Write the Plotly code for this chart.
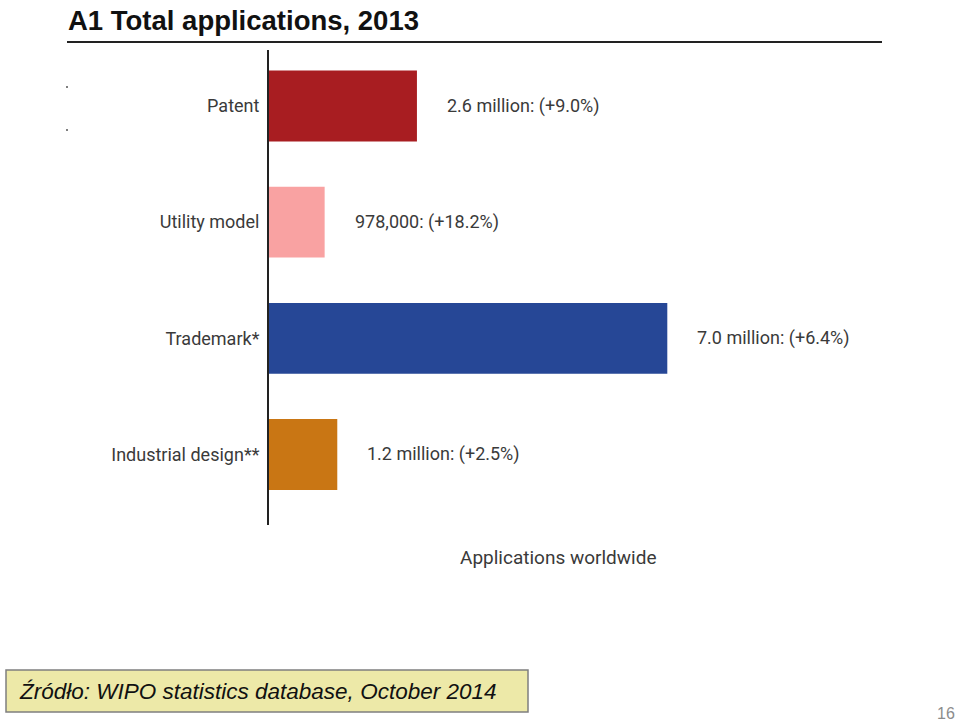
import plotly.graph_objects as go

categories = ["Patent", "Utility model", "Trademark*", "Industrial design**"]
values_million = [2.6, 0.978, 7.0, 1.2]
value_labels = ["2.6 million: (+9.0%)", "978,000: (+18.2%)", "7.0 million: (+6.4%)", "1.2 million: (+2.5%)"]
bar_colors = ["#A81D21", "#F9A2A2", "#264796", "#C97614"]

W, H = 960, 723
x0_px, x1_px = 269, 882
px_per_unit = 56.9
xmax = (x1_px - x0_px) / px_per_unit
LABEL_FONT = "Roboto, Liberation Sans Narrow, sans-serif"

fig = go.Figure()
fig.add_trace(go.Bar(
    y=categories, x=values_million, orientation="h",
    marker=dict(color=bar_colors, line=dict(width=0)),
    width=0.61, hoverinfo="skip", showlegend=False,
))

for c, v, t in zip(categories, values_million, value_labels):
    fig.add_annotation(x=v, y=c, xref="x", yref="y", text=t, showarrow=False,
                       xanchor="left", xshift=28,
                       font=dict(family=LABEL_FONT, size=18, color="#3a3a3a"))

fig.update_layout(
    width=W, height=H,
    margin=dict(l=0, r=0, t=0, b=0),
    paper_bgcolor="white", plot_bgcolor="white",
    xaxis=dict(domain=[x0_px / W, x1_px / W], range=[0, xmax], visible=False, fixedrange=True),
    yaxis=dict(domain=[1 - 525 / H, 1 - 50 / H], range=[3.607, -0.482], type="category",
               showline=True, linecolor="#222222", linewidth=2, ticks="", showgrid=False,
               ticklabelstandoff=4, fixedrange=True,
               tickfont=dict(family=LABEL_FONT, size=18, color="#3a3a3a")),
)

# Title and rule
fig.add_annotation(x=66 / W, y=1 - 20 / H, xref="paper", yref="paper", text="<b>A1 Total applications, 2013</b>",
                   showarrow=False, xanchor="left", yanchor="middle",
                   font=dict(family="Liberation Sans, Arial, sans-serif", size=27.5, color="#111111"))
fig.add_shape(type="line", xref="paper", yref="paper", x0=67 / W, x1=882 / W,
              y0=1 - 42 / H, y1=1 - 42 / H, line=dict(color="#222222", width=2))

# small dots
for yy in (87, 130):
    fig.add_shape(type="circle", xref="paper", yref="paper",
                  x0=66 / W, x1=68 / W, y0=1 - (yy + 1) / H, y1=1 - (yy - 1) / H,
                  line=dict(width=0), fillcolor="#555555")

# Axis title
fig.add_annotation(x=558 / W, y=1 - 557 / H, xref="paper", yref="paper", text="Applications worldwide",
                   showarrow=False, xanchor="center", yanchor="middle",
                   font=dict(family=LABEL_FONT, size=19, color="#3a3a3a"))

# Source box
fig.add_shape(type="rect", xref="paper", yref="paper", x0=6 / W, x1=528 / W,
              y0=1 - 712 / H, y1=1 - 670 / H, line=dict(color="#7f7f7f", width=1.5),
              fillcolor="#EDE9A8")
fig.add_annotation(x=17 / W, y=1 - 691 / H, xref="paper", yref="paper",
                   text="<i>Źródło: WIPO statistics database, October 2014</i>",
                   showarrow=False, xanchor="left", yanchor="middle",
                   font=dict(family="Liberation Sans, Arial, sans-serif", size=22.5, color="#111111"))

# Page number
fig.add_annotation(x=957 / W, y=1 - 713 / H, xref="paper", yref="paper", text="16",
                   showarrow=False, xanchor="right", yanchor="middle",
                   font=dict(family="Liberation Sans, Arial, sans-serif", size=16, color="#8c8c8c"))

fig.write_html("out.html", config={"displayModeBar": False},
               post_script="document.body.style.margin='0';document.body.style.overflow='hidden';")
